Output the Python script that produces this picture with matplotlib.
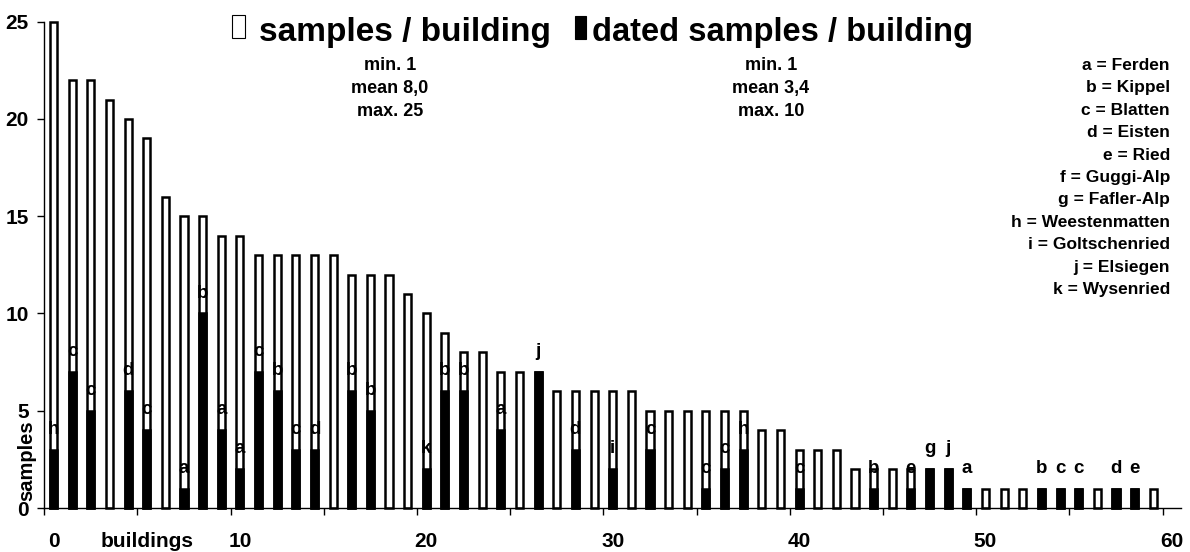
import matplotlib
matplotlib.use("Agg")
import matplotlib.pyplot as plt
from matplotlib.patches import Rectangle
import numpy as np

# ---- data ----
samples = [25, 22, 22, 21, 20, 19, 16, 15, 15, 14, 14, 13, 13, 13, 13, 13, 12, 12, 12, 11,
           10, 9, 8, 8, 7, 7, 7, 6, 6, 6, 6, 6, 5, 5, 5, 5, 5, 5, 4, 4,
           3, 3, 3, 2, 2, 2, 2, 2, 2, 1, 1, 1, 1, 1, 1, 1, 1, 1, 1, 1]
dated = [3, 7, 5, 0, 6, 4, 0, 1, 10, 4, 2, 7, 6, 3, 3, 0, 6, 5, 0, 0,
         2, 6, 6, 0, 4, 0, 7, 0, 3, 0, 2, 0, 3, 0, 0, 1, 2, 3, 0, 0,
         1, 0, 0, 0, 1, 0, 1, 2, 2, 1, 0, 0, 0, 1, 1, 1, 0, 1, 1, 0]
site = ['h', 'c', 'c', '', 'd', 'c', '', 'a', 'b', 'a', 'a', 'c', 'b', 'c', 'd', '', 'b', 'b', '', '',
        'k', 'b', 'b', '', 'a', '', 'j', '', 'd', '', 'i', '', 'c', '', '', 'c', 'c', 'h', '', '',
        'c', '', '', '', 'b', '', 'e', 'g', 'j', 'a', '', '', '', 'b', 'c', 'c', '', 'd', 'e', '']
legend_lines = ["a = Ferden", "b = Kippel", "c = Blatten", "d = Eisten", "e = Ried",
                "f = Guggi-Alp", "g = Fafler-Alp", "h = Weestenmatten", "i = Goltschenried",
                "j = Elsiegen", "k = Wysenried"]
stats_all = ["min. 1", "mean 8,0", "max. 25"]
stats_dated = ["min. 1", "mean 3,4", "max. 10"]
x_tick_pos = [0, 5, 10, 20, 30, 40, 50, 60]
x_tick_lab = ["0", "buildings", "10", "20", "30", "40", "50", "60"]
y_ticks = [0, 5, 10, 15, 20, 25]

plt.rcParams['font.family'] = ['Liberation Sans', 'DejaVu Sans']
plt.rcParams['font.weight'] = 'bold'

W, H = 1190, 552
fig = plt.figure(figsize=(W / 100, H / 100), dpi=100)
def fx(px): return px / W
def fy(py): return 1 - py / H

ax = fig.add_axes([fx(44.2), fy(508), (1181.2 - 44.2) / W, (508 - 21.7) / H])

x = np.arange(len(samples))
s = np.array(samples)
d = np.array(dated)
bw = 0.38
lw = 1.8

# white fill
ax.bar(x, s, width=bw, color='white', edgecolor='none', zorder=1, clip_on=False)
# dated (black)
m = d > 0
ax.bar(x[m], d[m], width=bw, color='black', edgecolor='black', linewidth=lw, zorder=2, clip_on=False)
# letters
for xi, di, lab in zip(x, d, site):
    if lab:
        ax.annotate(lab, (xi, di), xytext=(0, 11.5), textcoords='offset points',
                    ha='center', va='baseline', fontsize=13.5, fontweight='bold',
                    zorder=3, annotation_clip=False)
# outlines on top
ax.bar(x, s, width=bw, fill=False, edgecolor='black', linewidth=lw, zorder=4, clip_on=False)

ax.set_xlim(-0.5, 60.5)
ax.set_ylim(0, 25)
for sp in ['top', 'right']:
    ax.spines[sp].set_visible(False)
for sp in ['left', 'bottom']:
    ax.spines[sp].set_linewidth(1.0)
    ax.spines[sp].set_zorder(5)

ax.set_yticks(y_ticks)
ax.set_yticklabels([str(v) for v in y_ticks], fontsize=15, fontweight='bold')
ax.tick_params(axis='y', direction='out', length=5, width=1.0, pad=6)

ax.set_xticks(np.arange(-0.5, 60, 5))
ax.set_xticklabels([])
ax.tick_params(axis='x', which='major', direction='out', length=5, width=1.0)
ax.set_xticks(x_tick_pos, minor=True)
ax.set_xticklabels(x_tick_lab, minor=True, fontsize=15, fontweight='bold')
ax.tick_params(axis='x', which='minor', length=0, pad=17)

fig.text(fx(27), fy(461), "samples", rotation=90, ha='center', va='center',
         fontsize=14.5, fontweight='bold')

# legend-like title
fig.patches.append(Rectangle((fx(232), fy(38)), fx(245) - fx(232), fy(15) - fy(38),
                             transform=fig.transFigure, facecolor='white',
                             edgecolor='black', linewidth=0.8))
fig.patches.append(Rectangle((fx(575), fy(39)), fx(586) - fx(575), fy(16) - fy(39),
                             transform=fig.transFigure, facecolor='black',
                             edgecolor='black', linewidth=0.8))
fig.text(fx(259), fy(41), "samples / building", ha='left', va='baseline',
         fontsize=24, fontweight='bold')
fig.text(fx(592), fy(41), "dated samples / building", ha='left', va='baseline',
         fontsize=23.5, fontweight='bold')

for k, (a, b) in enumerate(zip(stats_all, stats_dated)):
    yb = 70 + 23 * k
    fig.text(fx(390), fy(yb), a, ha='center', va='baseline', fontsize=13, fontweight='bold')
    fig.text(fx(771), fy(yb), b, ha='center', va='baseline', fontsize=13, fontweight='bold')

for k, line in enumerate(legend_lines):
    fig.text(fx(1170), fy(70 + 22.4 * k), line, ha='right', va='baseline',
             fontsize=12.5, fontweight='bold')

fig.savefig("out.png", dpi=100)
